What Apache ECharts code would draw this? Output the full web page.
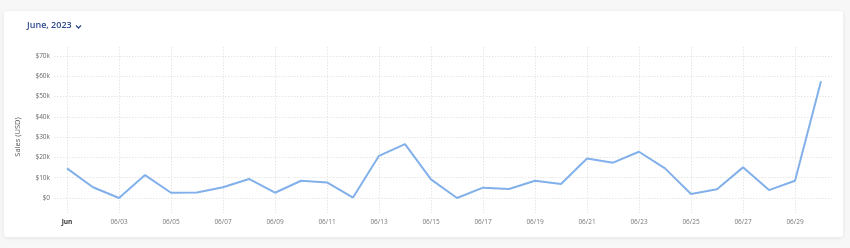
<!DOCTYPE html>
<html>
<head>
<meta charset="utf-8">
<script src="https://cdn.jsdelivr.net/npm/echarts@6/dist/echarts.min.js"></script>
<style>
  html, body { margin: 0; padding: 0; background: #f7f7f7; }
  #card { position: absolute; left: 4px; top: 11px; width: 839px; height: 226px; background: #fff; border-radius: 3px; box-shadow: 0 1px 4px rgba(0,0,0,0.08); }
  #chart { position: absolute; left: 0; top: 0; width: 850px; height: 248px; }
</style>
</head>
<body>
<div id="card"></div>
<div id="chart"></div>
<script>
const categories = ['Jun','06/02','06/03','06/04','06/05','06/06','06/07','06/08','06/09','06/10',
  '06/11','06/12','06/13','06/14','06/15','06/16','06/17','06/18','06/19','06/20',
  '06/21','06/22','06/23','06/24','06/25','06/26','06/27','06/28','06/29','06/30'];
const sales = [14600, 5300, 0, 11300, 2600, 2700, 5300, 9400, 2600, 8500,
  7700, 200, 20800, 26600, 9200, 0, 5100, 4400, 8500, 6900,
  19500, 17400, 22800, 14600, 2000, 4300, 15100, 3900, 8500, 57600];
const yTicks = { min: 0, max: 70000, interval: 10000 };
const titleText = 'June, 2023';
const yAxisTitle = 'Sales (USD)';

const chart = echarts.init(document.getElementById('chart'), null, { renderer: 'canvas' });
const font = 'Open Sans';
const gridLine = { show: true, lineStyle: { color: '#e6e6e6', type: [1.5, 1.5], width: 1 } };

chart.setOption({
  animation: false,
  textStyle: { fontFamily: font },
  grid: [
    { left: 54, right: 16, top: 56, bottom: 50 },
    { left: 67, right: 29, top: 47, bottom: 35 }
  ],
  xAxis: [
    { gridIndex: 0, type: 'category', data: categories, boundaryGap: true, show: false },
    { gridIndex: 1, type: 'category', data: categories, boundaryGap: false,
      axisLine: { show: false }, axisTick: { show: false },
      splitLine: Object.assign({ interval: 1 }, gridLine),
      axisLabel: {
        interval: 1, margin: 6, fontSize: 6.5, color: '#777', fontFamily: font,
        formatter: function (v, i) { return i === 0 ? '{b|' + v + '}' : v; },
        rich: { b: { fontWeight: 'bold', color: '#333', fontSize: 6.5, fontFamily: font } }
      }
    }
  ],
  yAxis: [
    { gridIndex: 0, type: 'value', min: yTicks.min, max: yTicks.max, interval: yTicks.interval,
      axisLine: { show: false }, axisTick: { show: false },
      splitLine: gridLine,
      axisLabel: { margin: 4, fontSize: 6.5, color: '#666', fontFamily: font,
        formatter: function (v) { return v === 0 ? '$0' : '$' + (v / 1000) + 'k'; } }
    },
    { gridIndex: 1, type: 'value', show: false, min: 0, max: 1, splitLine: { show: false } }
  ],
  series: [
    { type: 'line', xAxisIndex: 0, yAxisIndex: 0, data: sales, showSymbol: false, symbol: 'none',
      lineStyle: { color: '#82b0ea', width: 2 }, itemStyle: { color: '#82b0ea' } }
  ],
  graphic: [
    { type: 'text', left: 27, top: 21, style: { text: titleText, fill: '#2e4a8c', font: '600 9px "Open Sans"' } },
    { type: 'polyline', shape: { points: [[76, 25.5], [78.5, 28], [81, 25.5]] },
      style: { stroke: '#2e4a8c', lineWidth: 1.3, fill: null } },
    { type: 'text', x: 18, y: 137, rotation: Math.PI / 2,
      style: { text: yAxisTitle, fill: '#555', font: '7.5px "Open Sans"', align: 'center', verticalAlign: 'middle' } }
  ]
});
</script>
</body>
</html>
